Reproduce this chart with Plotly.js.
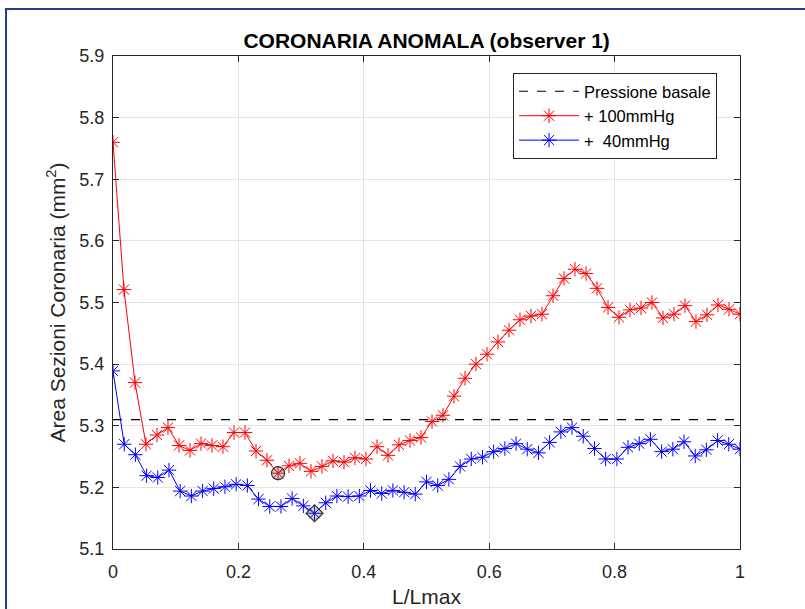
<!DOCTYPE html>
<html>
<head>
<meta charset="utf-8">
<script src="https://cdn.plot.ly/plotly-3.0.1.min.js"></script>
<style>
html,body{margin:0;padding:0;background:#fff;}
#wrap{position:relative;width:805px;height:609px;overflow:hidden;}
#chart{position:absolute;left:0;top:0;width:805px;height:609px;}
#frame{position:absolute;left:5px;top:8px;width:820px;height:620px;border-left:2px solid #23408e;border-top:2px solid #23408e;pointer-events:none;}
</style>
</head>
<body>
<div id="wrap"><div id="chart"></div><div id="frame"></div></div>
<script>
const xRed = [0,.0175,.0351,.0526,.0702,.0877,.1053,.1228,.1404,.1579,.1754,.1930,.2105,.2281,.2456,.2632,.2807,.2982,.3158,.3333,.3509,.3684,.3860,.4035,.4211,.4386,.4561,.4737,.4912,.5088,.5263,.5439,.5614,.5789,.5965,.6140,.6316,.6491,.6667,.6842,.7018,.7193,.7368,.7544,.7719,.7895,.8070,.8246,.8421,.8596,.8772,.8947,.9123,.9298,.9474,.9649,.9825,1];
const yRed = [5.760,5.521,5.370,5.270,5.285,5.297,5.268,5.260,5.271,5.268,5.266,5.289,5.289,5.259,5.244,5.223,5.235,5.239,5.226,5.234,5.243,5.241,5.248,5.246,5.266,5.252,5.269,5.276,5.281,5.307,5.317,5.348,5.377,5.400,5.416,5.436,5.455,5.472,5.478,5.481,5.511,5.539,5.554,5.547,5.523,5.492,5.476,5.488,5.491,5.500,5.475,5.481,5.495,5.469,5.480,5.496,5.489,5.481];
const xBlue = [0,.0179,.0357,.0536,.0714,.0893,.1071,.1250,.1429,.1607,.1786,.1964,.2143,.2321,.2500,.2679,.2857,.3036,.3214,.3393,.3571,.3750,.3929,.4107,.4286,.4464,.4643,.4821,.5000,.5179,.5357,.5536,.5714,.5893,.6071,.6250,.6429,.6607,.6786,.6964,.7143,.7321,.7500,.7679,.7857,.8036,.8214,.8393,.8571,.8750,.8929,.9107,.9286,.9464,.9643,.9821,1];
const yBlue = [5.389,5.270,5.253,5.219,5.216,5.228,5.194,5.186,5.194,5.198,5.201,5.205,5.203,5.181,5.169,5.169,5.182,5.170,5.158,5.175,5.186,5.185,5.186,5.195,5.190,5.195,5.192,5.189,5.209,5.203,5.213,5.234,5.246,5.249,5.258,5.263,5.271,5.262,5.256,5.273,5.290,5.297,5.283,5.263,5.246,5.246,5.265,5.271,5.278,5.258,5.262,5.274,5.251,5.261,5.276,5.270,5.262];
const xBase = [0, 1];
const yBase = [5.31, 5.31];
const seriesNames = ['Pressione basale', '+ 100mmHg', '+  40mmHg'];

function argmin(a){let k=0;for(let i=1;i<a.length;i++){if(a[i]<a[k])k=i;}return k;}
const iR = argmin(yRed), iB = argmin(yBlue);

const font = "Liberation Sans, Arial, Helvetica, sans-serif";
const traces = [
  {x:xBase, y:yBase, mode:'lines', name:seriesNames[0], line:{color:'#000', width:1.2, dash:'dash'}},
  {x:xRed, y:yRed, mode:'lines+markers', name:seriesNames[1], line:{color:'#ff0000', width:1},
   marker:{symbol:'asterisk-open', size:12, color:'#ff0000', line:{color:'#ff0000', width:1}}},
  {x:xBlue, y:yBlue, mode:'lines+markers', name:seriesNames[2], line:{color:'#0000ff', width:1},
   marker:{symbol:'asterisk-open', size:12, color:'#0000ff', line:{color:'#0000ff', width:1}}},
  {x:[xRed[iR]], y:[yRed[iR]], mode:'markers', showlegend:false, hoverinfo:'skip',
   marker:{symbol:'circle', size:13, color:'rgba(80,80,80,0.25)', line:{color:'#333', width:1.2}}},
  {x:[xBlue[iB]], y:[yBlue[iB]], mode:'markers', showlegend:false, hoverinfo:'skip',
   marker:{symbol:'diamond', size:13, color:'rgba(80,80,80,0.25)', line:{color:'#333', width:1.2}}}
];

const axisCommon = {
  showgrid:true, gridcolor:'#e3e3e3', gridwidth:1,
  showline:true, linecolor:'#262626', linewidth:1, mirror:'ticks',
  ticks:'inside', ticklen:6, tickcolor:'#262626',
  tickfont:{family:font, size:18, color:'#262626'},
  zeroline:false, fixedrange:true
};

const layout = {
  width:805, height:609,
  margin:{l:113, r:65, t:56, b:60},
  paper_bgcolor:'#fff', plot_bgcolor:'#fff',
  title:{text:'<b>CORONARIA ANOMALA (observer 1)</b>', font:{family:font, size:21, color:'#000'},
         x:0.53, xanchor:'center', y:0.934, yanchor:'middle', yref:'container'},
  xaxis:Object.assign({}, axisCommon, {range:[0,1], dtick:0.2, tick0:0, ticklabelstandoff:6,
         title:{text:'L/Lmax', font:{family:font, size:21, color:'#262626'}, standoff:8}}),
  yaxis:Object.assign({}, axisCommon, {range:[5.1,5.9], dtick:0.1, tick0:5.1, tickformat:'.1f', ticklabelstandoff:4,
         title:{text:'Area Sezioni Coronaria (mm<sup>2</sup>)', font:{family:font, size:21, color:'#262626'}, standoff:8}}),
  showlegend:true,
  legend:{x:0.638, y:0.9655, xanchor:'left', yanchor:'top', bgcolor:'#fff',
          bordercolor:'#262626', borderwidth:1, font:{family:font, size:16.5, color:'#000'},
          tracegroupgap:0, itemwidth:60}
};

Plotly.newPlot('chart', traces, layout, {displayModeBar:false, staticPlot:true});
</script>
</body>
</html>
